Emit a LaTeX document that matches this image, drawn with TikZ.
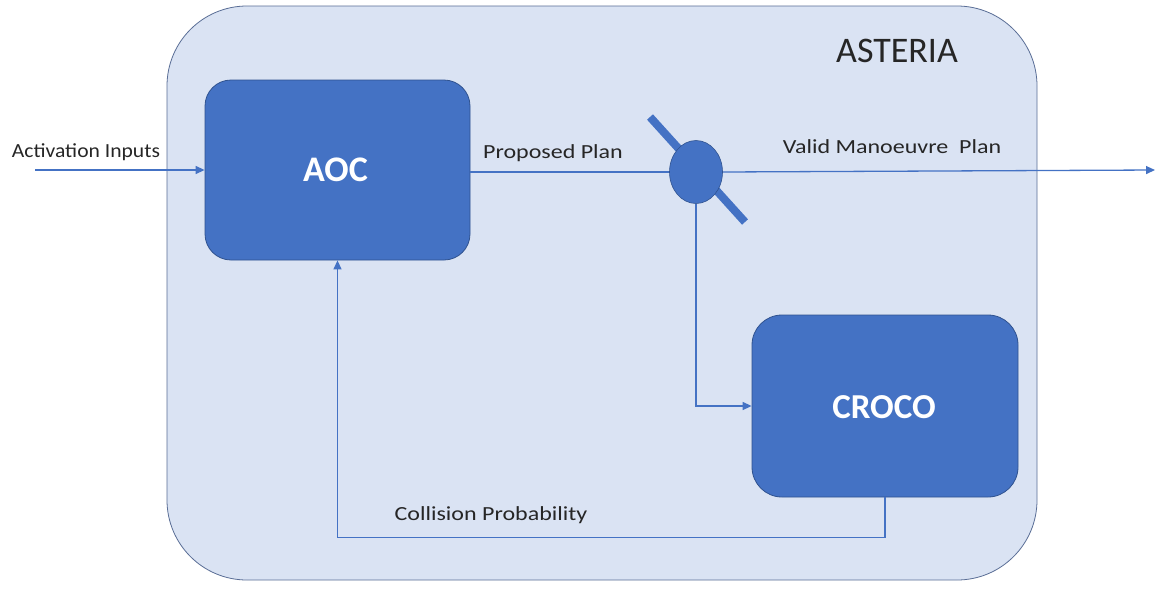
\documentclass[tikz,border=0pt]{standalone}
\usepackage{fontspec}
\setmainfont{Carlito}
\usetikzlibrary{arrows.meta,shapes.geometric}
\definecolor{outerfill}{HTML}{DAE3F3}
\definecolor{outerdraw}{HTML}{5A6E96}
\definecolor{boxfill}{HTML}{4472C4}
\definecolor{boxdraw}{HTML}{2F528F}
\tikzset{
  blk/.style={draw=boxdraw, fill=boxfill, line width=0.8pt, rounded corners=26pt},
  blktext/.style={text=white, font=\bfseries\fontsize{36}{40}\selectfont, inner sep=0pt, anchor=base},
  conn/.style={draw=boxfill, line width=1.3pt},
  arr/.style={conn, -{Triangle[length=9pt,width=8pt]}},
  lbl/.style={font=\fontsize{20}{24}\selectfont, text=black!85, inner sep=0pt, anchor=base}
}
\begin{document}
\begin{tikzpicture}[x=1pt,y=-1pt]
\useasboundingbox (0,0) rectangle (1155,592);
\fill[white] (0,0) rectangle (1155,592);
% outer container
\draw[draw=outerdraw, fill=outerfill, line width=0.8pt, rounded corners=80pt] (167,6) rectangle (1037,580);
\node[lbl, font=\fontsize{36}{40}\selectfont] (asteria) at (897,62) {ASTERIA};
% blocks
\node[blk, minimum width=265pt, minimum height=180pt] (aoc) at (337.5,170) {};
\node[blktext] (aoct) at (335.5,181) {AOC};
\node[blk, minimum width=266pt, minimum height=182pt, rounded corners=30pt] (croco) at (885,406) {};
\node[blktext, font=\bfseries\fontsize{35}{40}\selectfont] (crocot) at (884,418) {CROCO};
% switch
\draw[boxfill, line width=8pt] (650,117) -- (745,222);
\node[draw=boxdraw, fill=boxfill, ellipse, minimum width=53pt, minimum height=63pt, inner sep=0pt, line width=0.6pt] (sw) at (696,172) {};
% connectors
\coordinate (inL) at (35,170);
\coordinate (outR) at (1155,170);
\draw[arr] (inL) -- (aoc.west |- inL);
\draw[conn] (aoc.east |- sw.west) -- (sw.west);
\draw[arr] (sw.east) -- (outR);
\draw[arr] (sw.south) |- (croco.west);
\draw[arr] (croco.south) -- ++(0,40) -| (aoc.south);
% labels
\node[lbl] (l1) at (86,157) {\scalebox{1.08}[1]{Activation Inputs}};
\node[lbl] (l2) at (553,158) {\scalebox{1.2}[1]{Proposed Plan}};
\node[lbl] (l3) at (892,153) {\scalebox{1.2}[1]{Valid Manoeuvre\ \ Plan}};
\node[lbl] (l4) at (491,520) {\scalebox{1.2}[1]{Collision Probability}};
\end{tikzpicture}
\end{document}
